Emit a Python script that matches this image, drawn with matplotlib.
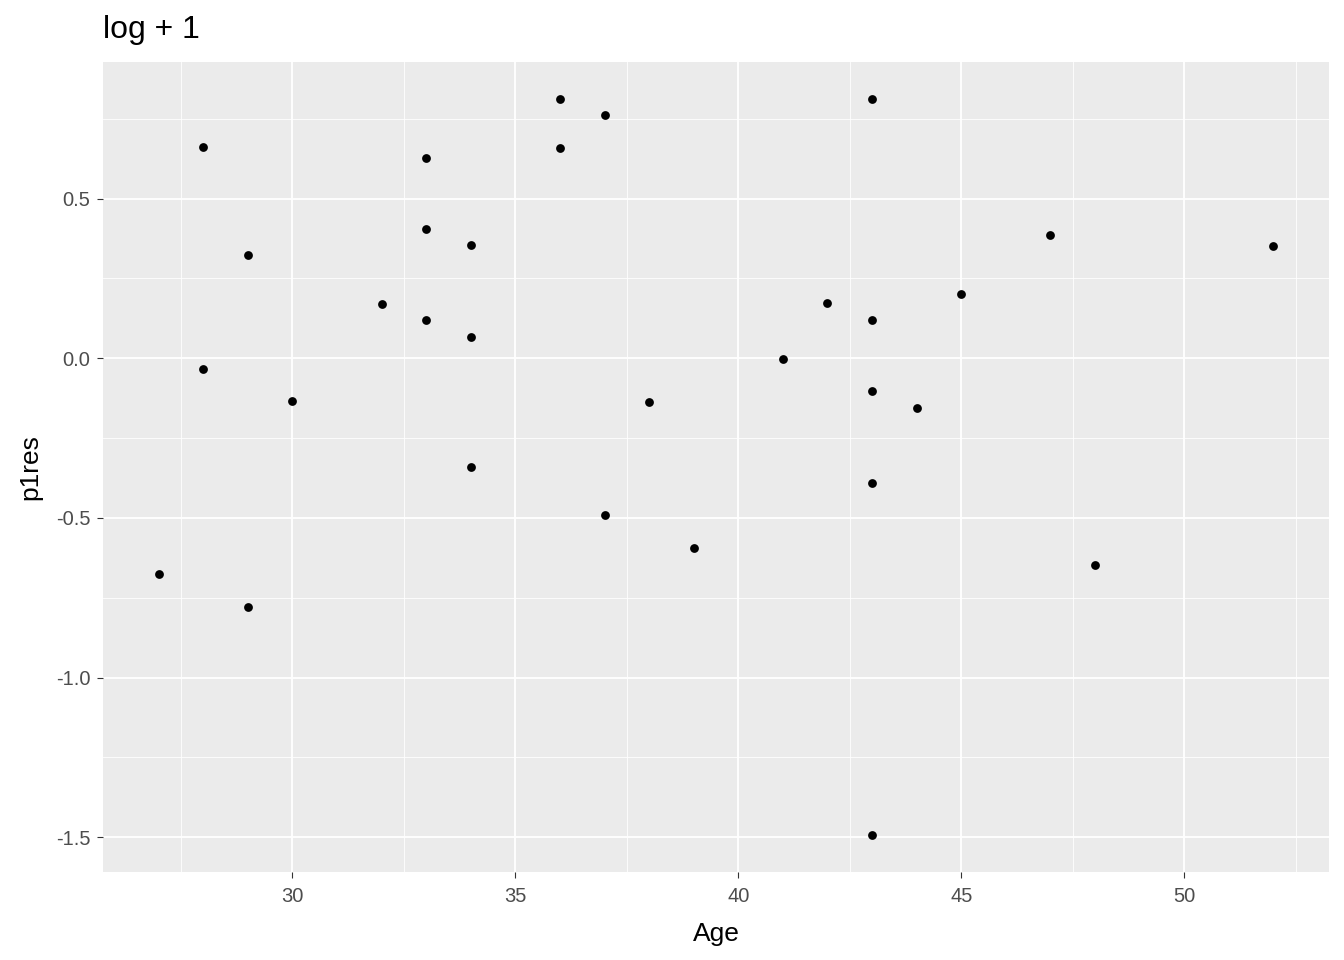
import numpy as np
import matplotlib.pyplot as plt

plt.rcParams['font.family'] = ['Liberation Sans', 'DejaVu Sans']

age = [27, 28, 28, 29, 29, 30, 32, 33, 33, 33, 34, 34, 34, 36, 36, 37, 37,
       38, 39, 41, 42, 43, 43, 43, 43, 43, 44, 45, 47, 48, 52]
p1res = [-0.675, 0.663, -0.034, 0.322, -0.778, -0.134, 0.169, 0.628, 0.406,
         0.119, 0.356, 0.066, -0.341, 0.8125, 0.659, 0.7625, -0.491,
         -0.1375, -0.594, -0.003, 0.172, 0.8125, 0.119, -0.103, -0.391,
         -1.494, -0.156, 0.200, 0.3875, -0.647, 0.353]

fig = plt.figure(figsize=(13.44, 9.6), dpi=100)
ax = fig.add_axes([103/1344, 88/960, 1226/1344, 810/960])
ax.set_facecolor('#EBEBEB')

ax.set_xlim(25.75, 53.25)
ax.set_ylim(-1.609, 0.928)
xt = [30, 35, 40, 45, 50]
yt = [-1.5, -1.0, -0.5, 0.0, 0.5]
ax.set_xticks(xt)
ax.set_yticks(yt)
ax.set_yticklabels(['-1.5', '-1.0', '-0.5', '0.0', '0.5'])
ax.set_xticks([27.5, 32.5, 37.5, 42.5, 47.5, 52.5], minor=True)
ax.set_yticks([-1.25, -0.75, -0.25, 0.25, 0.75], minor=True)
ax.grid(True, which='major', color='white', linewidth=1.3)
ax.grid(True, which='minor', color='white', linewidth=0.6)
ax.set_axisbelow(True)
for s in ax.spines.values():
    s.set_visible(False)
ax.tick_params(which='major', length=4, color='#333333', labelsize=14.5,
               labelcolor='#4D4D4D', pad=5)
ax.tick_params(axis='x', pad=7)
ax.tick_params(which='minor', length=0)

ax.scatter(age, p1res, s=40, color='black', linewidths=0, zorder=3)

ax.set_xlabel('Age', fontsize=19, labelpad=11)
ax.set_ylabel('p1res', fontsize=19, labelpad=10)
fig.text(103/1344, 1 - 30/960, 'log + 1', fontsize=23, va='center', ha='left')

fig.savefig('out.png', dpi=100)
